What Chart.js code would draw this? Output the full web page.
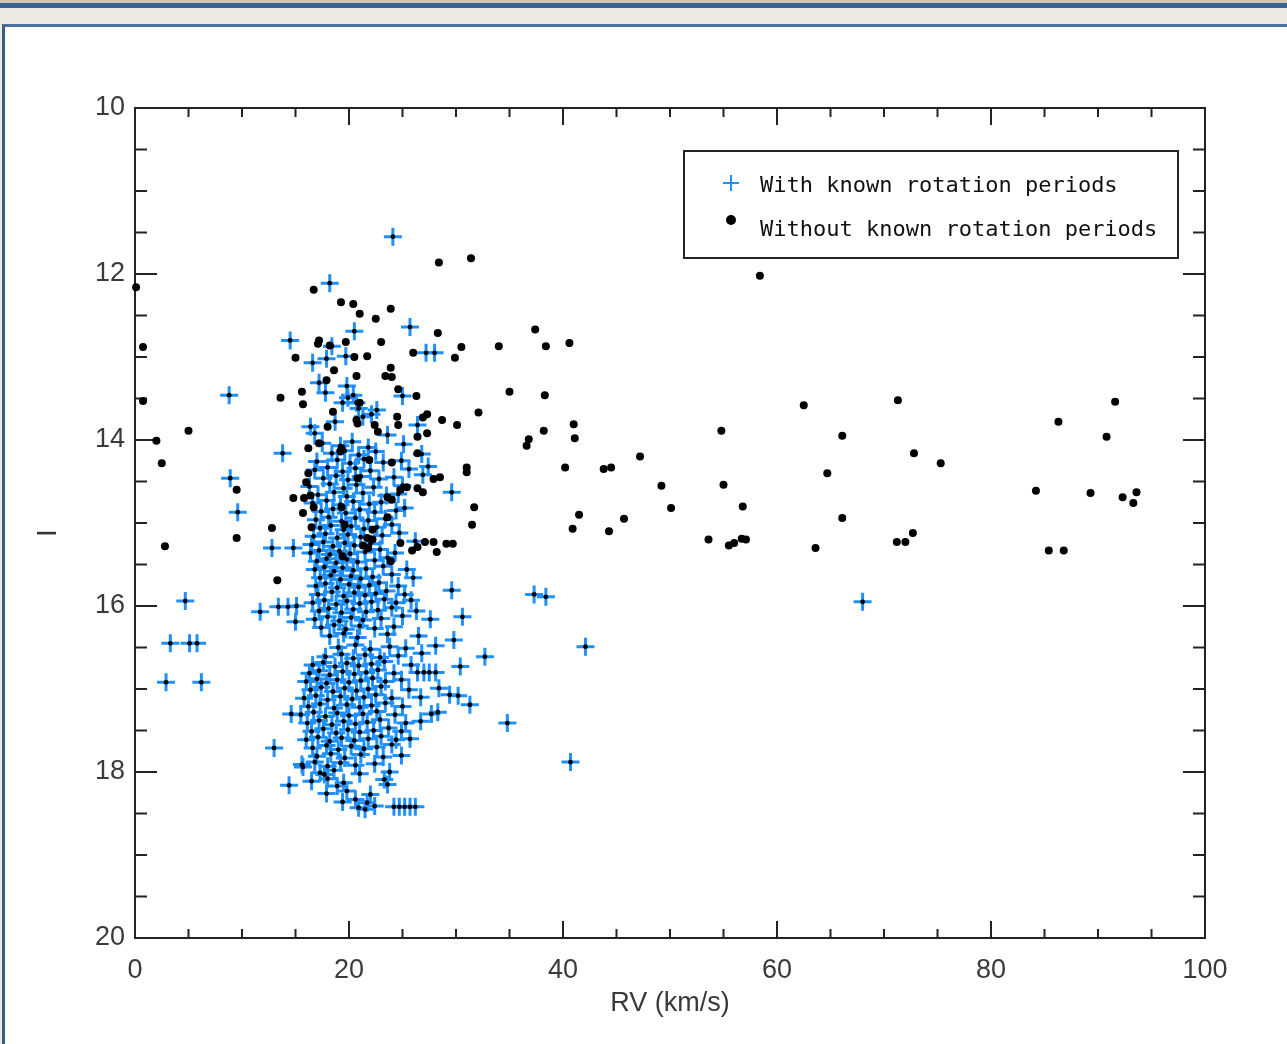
<!DOCTYPE html>
<html>
<head>
<title>RV vs I</title>
<script src="https://cdn.jsdelivr.net/npm/chart.js"></script>
<style>
  html, body { margin: 0; padding: 0; width: 1287px; height: 1044px; overflow: hidden; background: #ece9e1; }
  #bar1 { position: absolute; left: 0; top: 0; width: 1287px; height: 3px; background: #cfc8b3; }
  #bar2 { position: absolute; left: 0; top: 3px; width: 1287px; height: 5px; background: #3d6290; }
  #panel { position: absolute; left: 2px; top: 24px; width: 1285px; height: 1020px; background: #fff;
           border-left: 3px solid #3b5d8c; border-top: 3px solid #4f6f9c; box-sizing: border-box; }
  #wrap { position: absolute; left: 0; top: 0; width: 1287px; height: 1044px; }
</style>
</head>
<body>
<div id="bar1"></div>
<div id="bar2"></div>
<div id="panel"></div>
<div id="wrap"><canvas id="rvChart" width="1287" height="1044"></canvas></div>

<script>
// axis ticks
const xMajor = [0, 20, 40, 60, 80, 100];
const xMinor = [5, 10, 15, 25, 30, 35, 45, 50, 55, 65, 70, 75, 85, 90, 95];
const yMajor = [10, 12, 14, 16, 18, 20];
const yMinor = [10.5, 11, 11.5, 12.5, 13, 13.5, 14.5, 15, 15.5, 16.5, 17, 17.5, 18.5, 19, 19.5];

// stars with known rotation periods [RV, I]
const knownSparse = [
  [24.1,11.55],[18.2,12.11],[14.5,12.80],[20.5,12.69],[25.7,12.64],[27.2,12.95],[28.0,12.95],[18.4,12.87],
  [16.6,13.07],[17.9,13.02],[19.7,12.99],[17.2,13.31],[17.8,13.43],[20.4,13.46],[19.9,13.49],[20.7,13.55],
  [19.4,13.55],[22.1,13.69],[21.3,13.72],[25.0,13.47],[16.4,13.84],[16.8,13.92],[26.4,13.82],[23.6,13.94],
  [8.8,13.46],[13.8,14.16],[8.9,14.46],[9.6,14.87],[29.6,14.63],[19.8,13.35],[20.9,13.62],[18.7,13.78],[22.6,13.64],
  [4.7,15.94],[3.3,16.45],[5.1,16.45],[5.8,16.45],[2.9,16.92],[6.2,16.92],[12.8,15.30],[14.8,15.30],
  [11.7,16.07],[13.4,16.01],[14.3,16.01],[15.1,16.00],[15.0,16.19],[13.0,17.71],[14.4,18.16],[37.3,15.86],
  [38.4,15.89],[42.1,16.49],[68.0,15.95],[40.7,17.88],[34.8,17.41],[32.7,16.61],[30.6,16.13],[29.6,15.81],
  [31.3,17.19],[30.2,17.08],[30.4,16.73],[29.8,16.41],[15.7,17.94],[14.6,17.30]
];
const knownUpper = [
  [17.5,14.04],[19.2,14.07],[20.3,14.02],[21.8,14.09],[25.1,14.05],
  [18.4,14.16],[19.6,14.13],[20.9,14.18],[22.5,14.14],[26.8,14.17],
  [17.0,14.26],[18.9,14.24],[20.1,14.28],[21.4,14.23],[23.2,14.27],[24.9,14.25],
  [16.8,14.36],[18.0,14.33],[19.4,14.38],[20.6,14.34],[22.0,14.37],[25.6,14.35],[27.4,14.32],
  [17.6,14.46],[18.8,14.43],[19.9,14.48],[21.1,14.44],[22.8,14.47],[24.2,14.45],[26.9,14.42],
  [16.3,14.56],[18.2,14.53],[19.5,14.58],[20.7,14.54],[22.3,14.57],[25.0,14.55],
  [17.1,14.66],[18.6,14.63],[19.8,14.68],[21.3,14.64],[23.5,14.67],[24.6,14.65],
  [16.6,14.76],[17.9,14.73],[19.2,14.78],[20.4,14.74],[21.9,14.77],[23.0,14.75],
  [17.4,14.86],[18.5,14.83],[19.7,14.88],[21.0,14.84],[22.4,14.87],[24.4,14.85],[25.2,14.82],
  [16.9,14.96],[18.1,14.93],[19.3,14.98],[20.6,14.94],[21.8,14.97],[23.4,14.95],
  [17.3,15.06],[18.3,15.03],[19.5,15.08],[20.2,15.04],[21.4,15.07],[22.6,15.05],[24.0,15.02],
  [16.7,15.16],[17.8,15.13],[18.9,15.18],[19.9,15.14],[21.1,15.17],[23.1,15.15],[24.7,15.12],
  [16.5,15.26],[17.6,15.23],[18.5,15.28],[19.6,15.24],[20.5,15.27],[22.0,15.25],[26.2,15.22],
  [16.4,15.36],[17.2,15.33],[18.2,15.38],[19.1,15.34],[20.1,15.37],[21.5,15.35],[22.9,15.32],[24.3,15.36],
  [17.0,15.46],[17.9,15.43],[18.8,15.48],[19.8,15.44],[20.8,15.47],[22.4,15.45],[23.6,15.42],
  [16.8,15.56],[17.7,15.53],[18.6,15.58],[19.4,15.54],[20.4,15.57],[21.6,15.55],[23.2,15.52],[25.4,15.56],
  [17.3,15.66],[18.3,15.63],[19.2,15.68],[20.2,15.64],[21.1,15.67],[22.2,15.65],[24.0,15.62],[26.0,15.66],
  [16.9,15.76],[17.8,15.73],[18.9,15.78],[20.0,15.74],[20.9,15.77],[21.9,15.75],[22.8,15.72],[24.6,15.76],
  [17.1,15.86],[18.4,15.83],[19.5,15.88],[20.5,15.84],[21.5,15.87],[22.5,15.85],[23.5,15.82],[25.2,15.86],
  [16.6,15.96],[17.7,15.93],[18.8,15.98],[19.8,15.94],[21.0,15.97],[22.1,15.95],[23.3,15.92],[24.4,15.96],[25.8,15.93],
  [17.2,16.06],[18.1,16.03],[19.3,16.08],[20.4,16.04],[21.6,16.07],[22.7,16.05],[24.0,16.02],[26.3,16.06],
  [16.8,16.16],[18.0,16.13],[19.1,16.18],[20.2,16.14],[21.3,16.17],[23.0,16.15],[25.0,16.12],[27.6,16.16],
  [17.4,16.26],[18.6,16.23],[19.7,16.28],[21.0,16.24],[22.4,16.27],[24.2,16.25],
  [18.2,16.36],[19.5,16.33],[20.8,16.38],[23.6,16.34],[26.5,16.36]
];
const knownLower = [
  [19.0,16.50],[20.6,16.47],[22.0,16.52],[23.8,16.49],[25.3,16.51],[28.1,16.48],
  [17.8,16.61],[19.3,16.58],[20.4,16.63],[21.5,16.59],[22.9,16.62],[24.6,16.60],[26.8,16.57],
  [16.6,16.71],[17.6,16.68],[18.7,16.73],[19.8,16.69],[20.9,16.72],[22.1,16.70],[23.3,16.67],[25.8,16.71],
  [16.3,16.81],[17.2,16.78],[18.2,16.83],[19.4,16.79],[20.5,16.82],[21.6,16.80],[22.7,16.77],[24.2,16.81],
  [26.4,16.80],[27.0,16.80],[27.5,16.80],[28.1,16.80],
  [16.0,16.91],[17.0,16.88],[17.9,16.93],[18.9,16.89],[20.0,16.92],[21.1,16.90],[22.2,16.87],[23.4,16.91],[24.9,16.89],
  [16.4,17.01],[17.4,16.98],[18.5,17.03],[19.6,16.99],[20.7,17.02],[21.8,17.00],[23.0,16.97],[25.6,17.01],[28.4,16.99],
  [15.8,17.11],[16.9,17.08],[18.0,17.13],[19.2,17.09],[20.3,17.12],[21.4,17.10],[22.5,17.07],[24.0,17.11],[26.7,17.10],[29.4,17.07],
  [16.2,17.21],[17.3,17.18],[18.6,17.23],[19.8,17.19],[21.0,17.22],[22.1,17.20],[23.4,17.17],[25.0,17.21],
  [15.5,17.31],[16.7,17.28],[17.8,17.33],[18.9,17.29],[20.0,17.32],[21.3,17.30],[22.6,17.27],[24.3,17.31],[27.7,17.30],[28.3,17.28],
  [16.1,17.41],[17.2,17.38],[18.4,17.43],[19.5,17.39],[20.6,17.42],[21.7,17.40],[22.9,17.37],[25.3,17.41],[26.7,17.39],
  [16.5,17.51],[17.6,17.48],[18.8,17.53],[19.9,17.49],[21.0,17.52],[22.3,17.50],[23.7,17.47],[24.9,17.51],
  [16.0,17.61],[17.1,17.58],[18.2,17.63],[19.3,17.59],[20.5,17.62],[21.8,17.60],[23.0,17.57],[24.4,17.61],[25.7,17.60],
  [16.6,17.71],[17.9,17.68],[19.0,17.73],[20.2,17.69],[21.4,17.72],[22.6,17.70],[24.0,17.67],
  [17.0,17.81],[18.3,17.78],[19.6,17.83],[21.1,17.79],[23.2,17.82],[24.9,17.80],
  [15.6,17.91],[16.8,17.88],[18.0,17.93],[19.2,17.89],[20.6,17.92],[22.4,17.90],
  [17.3,18.01],[17.7,18.03],[18.6,17.98],[21.0,18.02],[23.8,18.00],
  [16.5,18.11],[18.0,18.08],[19.5,18.13],[23.3,18.09],[23.6,18.15],[18.9,18.17],
  [17.9,18.26],[19.8,18.23],[22.0,18.27],
  [19.4,18.36],[20.6,18.33],[21.7,18.37],
  [20.9,18.43],[21.5,18.45],[22.4,18.41],[24.2,18.42],[24.7,18.42],[25.2,18.42],[25.7,18.42],[26.2,18.42]
];

// stars without known rotation periods [RV, I]
const unknownCluster = [
  [0.1,12.16],[0.75,12.88],[0.75,13.53],[2.0,14.01],[2.5,14.28],[5.0,13.89],[2.8,15.28],[9.5,15.18],[9.5,14.60],
  [13.6,13.49],[12.8,15.06],[13.3,15.69],[16.7,12.19],[19.25,12.34],[20.4,12.36],[21.0,12.48],[22.5,12.54],[23.9,12.42],
  [28.3,12.71],[17.2,12.80],[17.1,12.84],[19.7,12.82],[18.2,12.86],[23.0,12.82],[15.0,13.01],[20.5,13.00],[21.7,12.99],
  [26.0,12.95],[18.6,13.16],[23.9,13.13],[23.4,13.23],[24.0,13.24],[20.7,13.23],[17.9,13.28],[15.6,13.42],[15.7,13.57],
  [24.6,13.39],[26.3,13.47],[28.7,13.76],[27.3,13.69],[24.5,13.72],[24.6,13.82],[26.9,13.73],[26.4,13.96],[27.3,13.92],
  [18.5,13.66],[17.2,14.04],[18.0,13.84],[20.8,13.80],[19.2,14.14],[21.0,13.55],[20.7,13.76],[22.4,13.82],[22.7,13.90],
  [26.4,14.16],[28.5,14.45],[27.9,14.47],[16.2,14.40],[16.0,14.51],[14.8,14.70],[19.3,14.81],[15.7,14.88],[16.5,15.05],
  [20.8,14.46],[23.6,14.69],[24.0,14.27],[25.4,14.57],[26.4,14.58],[26.9,14.63],[23.6,14.93],[22.2,15.08],[21.7,15.18],
  [22.2,15.20],[21.3,15.27],[21.8,15.30],[24.8,15.24],[25.9,15.33],[26.4,15.29],[27.1,15.23],[27.9,15.23],[28.2,15.35],
  [19.6,15.02],[21.9,14.24],[16.2,14.10],[19.3,14.10],[19.4,15.40],[23.9,15.46],[15.8,14.70],[16.4,14.67],[16.7,14.81],
  [24.0,14.72],[24.8,14.60]
];
const unknownField = [
  [28.4,11.86],[31.4,11.81],[58.4,12.02],[34.0,12.87],[37.4,12.67],[38.4,12.87],[40.6,12.83],[30.5,12.88],[29.9,13.01],
  [35.0,13.42],[38.3,13.46],[32.1,13.67],[30.1,13.82],[36.8,13.99],[36.6,14.07],[38.2,13.89],[41.0,13.81],[41.1,13.98],
  [54.8,13.89],[31.0,14.33],[31.0,14.39],[40.2,14.33],[43.8,14.35],[44.5,14.33],[47.2,14.20],[49.2,14.55],[50.1,14.82],
  [55.0,14.54],[56.8,14.80],[31.7,14.81],[31.5,15.02],[29.7,15.25],[29.1,15.25],[41.5,14.90],[40.9,15.07],[44.3,15.10],
  [45.7,14.95],[53.6,15.20],[55.5,15.27],[56.0,15.24],[56.7,15.19],[57.1,15.20],[62.5,13.58],[71.3,13.52],[66.1,13.95],
  [72.8,14.16],[75.3,14.28],[64.7,14.40],[66.1,14.94],[63.6,15.30],[71.2,15.23],[72.0,15.23],[72.7,15.12],[91.6,13.54],
  [86.3,13.78],[90.8,13.96],[84.2,14.61],[89.3,14.64],[92.3,14.69],[93.3,14.76],[93.6,14.63],[85.4,15.33],[86.8,15.33]
];

const known = knownSparse.concat(knownUpper, knownLower).map(([x, y]) => ({ x, y }));
const unknown = unknownCluster.concat(unknownField).map(([x, y]) => ({ x, y }));

const BLUE = '#1e90ff';
const INK = '#222';

const framePlugin = {
  id: 'frame',
  beforeDatasetsDraw(chart) {
    const { ctx, chartArea: a, scales: { x, y } } = chart;
    ctx.save();
    ctx.strokeStyle = INK;
    ctx.lineWidth = 2;
    ctx.strokeRect(a.left, a.top, a.right - a.left, a.bottom - a.top);
    ctx.beginPath();
    const vt = (v, len) => {
      const px = x.getPixelForValue(v);
      ctx.moveTo(px, a.bottom); ctx.lineTo(px, a.bottom - len);
      ctx.moveTo(px, a.top); ctx.lineTo(px, a.top + len);
    };
    const ht = (v, len) => {
      const py = y.getPixelForValue(v);
      ctx.moveTo(a.left, py); ctx.lineTo(a.left + len, py);
      ctx.moveTo(a.right, py); ctx.lineTo(a.right - len, py);
    };
    xMajor.forEach(v => vt(v, 17));
    xMinor.forEach(v => vt(v, 9));
    yMajor.forEach(v => ht(v, 22));
    yMinor.forEach(v => ht(v, 12));
    ctx.stroke();
    ctx.restore();
  },
  afterDraw(chart) {
    const ctx = chart.ctx;
    ctx.save();
    // y title (rotated "I")
    ctx.fillStyle = '#333';
    ctx.font = '28px "Liberation Sans"';
    ctx.textAlign = 'center';
    ctx.textBaseline = 'middle';
    ctx.translate(48, 533);
    ctx.rotate(-Math.PI / 2);
    ctx.fillText('I', 0, 0);
    ctx.restore();

    // legend
    ctx.save();
    ctx.strokeStyle = INK;
    ctx.lineWidth = 2;
    ctx.strokeRect(684, 151, 494, 107);
    ctx.strokeStyle = BLUE;
    ctx.beginPath();
    ctx.moveTo(723, 183); ctx.lineTo(739, 183);
    ctx.moveTo(731, 175); ctx.lineTo(731, 191);
    ctx.stroke();
    ctx.fillStyle = '#000';
    ctx.beginPath();
    ctx.arc(731, 220, 5, 0, Math.PI * 2);
    ctx.fill();
    ctx.fillStyle = '#111';
    ctx.font = '22px "DejaVu Sans Mono"';
    ctx.textBaseline = 'middle';
    ctx.fillText(chart.data.datasets[0].label, 760, 186);
    ctx.fillText(chart.data.datasets[2].label, 760, 230);
    ctx.restore();
  }
};

const tickFont = { family: 'Liberation Sans', size: 27 };

new Chart(document.getElementById('rvChart'), {
  type: 'scatter',
  data: {
    datasets: [
      {
        label: 'With known rotation periods',
        data: known,
        pointStyle: 'cross',
        pointRadius: 9,
        borderColor: BLUE,
        borderWidth: 3,
        order: 3,
        clip: false
      },
      {
        label: 'centres',
        data: known,
        pointStyle: 'circle',
        pointRadius: 2.4,
        backgroundColor: '#000',
        borderWidth: 0,
        order: 1,
        clip: false
      },
      {
        label: 'Without known rotation periods',
        data: unknown,
        pointStyle: 'circle',
        pointRadius: 4,
        backgroundColor: '#000',
        borderWidth: 0,
        order: 2,
        clip: false
      }
    ]
  },
  options: {
    responsive: false,
    devicePixelRatio: 1,
    animation: false,
    layout: { padding: { left: 0, top: 108, right: 82, bottom: 0 } },
    plugins: { legend: { display: false }, tooltip: { enabled: false } },
    scales: {
      x: {
        type: 'linear',
        min: 0,
        max: 100,
        afterBuildTicks: s => { s.ticks = xMajor.map(v => ({ value: v })); },
        afterFit: s => { s.height = 106; },
        grid: { display: false, drawTicks: false },
        border: { display: false },
        ticks: { font: tickFont, color: '#3a3a3a', padding: 16, maxRotation: 0 },
        title: { display: true, text: 'RV (km/s)', font: tickFont, color: '#3a3a3a', padding: { top: 0, bottom: 24 } }
      },
      y: {
        type: 'linear',
        min: 10,
        max: 20,
        reverse: true,
        afterBuildTicks: s => { s.ticks = yMajor.map(v => ({ value: v })); },
        afterFit: s => { s.width = 135; },
        grid: { display: false, drawTicks: false },
        border: { display: false },
        ticks: { font: tickFont, color: '#3a3a3a', padding: 10 }
      }
    }
  },
  plugins: [framePlugin]
});
</script>
</body>
</html>
